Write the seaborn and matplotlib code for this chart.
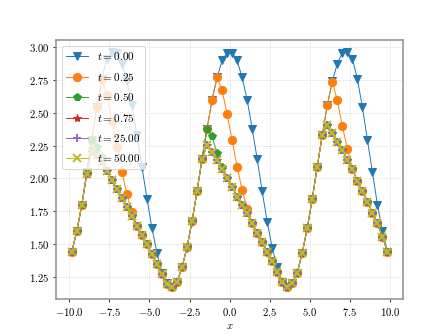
import numpy as np
import seaborn as sns
import matplotlib.pyplot as plt

# grid of 64 cell centres on [-10, 10]
x = np.linspace(-10 + 0.15625, 10 - 0.15625, 64)

y_t000 = [1.44, 1.60, 1.80, 2.05, 2.296, 2.545, 2.76, 2.914, 2.964, 2.957,
          2.876, 2.74, 2.56, 2.33, 2.09, 1.845, 1.62, 1.43, 1.28, 1.20,
          1.17, 1.21, 1.32, 1.47, 1.67, 1.90, 2.15, 2.38, 2.60, 2.77,
          2.90, 2.96, 2.96, 2.90, 2.77, 2.60, 2.38, 2.15, 1.90, 1.67,
          1.47, 1.32, 1.21, 1.17, 1.20, 1.28, 1.43, 1.62, 1.845, 2.09,
          2.33, 2.56, 2.74, 2.876, 2.957, 2.964, 2.914, 2.76, 2.545, 2.296,
          2.05, 1.80, 1.60, 1.44]

y_t025 = [1.44, 1.594, 1.797, 2.04, 2.296,
          2.545, 2.76, 2.634, 2.44, 2.24, 2.05, 1.878, 1.745, 1.636,
          1.566, 1.495, 1.42, 1.344, 1.266, 1.195, 1.168, 1.209, 1.32, 1.474, 1.672, 1.903,
          2.15, 2.38, 2.60, 2.77, 2.672, 2.489, 2.29, 2.09, 1.912, 1.767, 1.657,
          1.58, 1.517, 1.441, 1.365, 1.288, 1.21, 1.172, 1.198, 1.28, 1.43, 1.62, 1.843, 2.09, 2.33,
          2.56, 2.735, 2.596, 2.40, 2.227, 2.074, 1.98,
          1.903, 1.822, 1.739, 1.657, 1.555, 1.441]

y_t050 = [1.44, 1.594, 1.797, 2.04,
          2.296, 2.24, 2.16, 2.06,
          1.985, 1.915, 1.853, 1.782, 1.712, 1.636, 1.566, 1.495, 1.42, 1.344,
          1.266, 1.195, 1.168, 1.209, 1.32, 1.474, 1.672, 1.903, 2.145,
          2.38, 2.32, 2.19, 2.09,
          2.0, 1.937, 1.86, 1.797, 1.733, 1.657, 1.58, 1.517, 1.441, 1.365,
          1.288, 1.21, 1.172, 1.198, 1.28, 1.43, 1.62, 1.843, 2.09, 2.33,
          2.41, 2.346, 2.277, 2.214, 2.143, 2.07, 1.98, 1.903, 1.822, 1.739,
          1.657, 1.555, 1.441]

# t = 0.75, 25 and 50 sit on top of each other
y_late = [1.44, 1.594, 1.797, 2.033, 2.21, 2.176, 2.13, 2.055, 1.985, 1.915,
          1.853, 1.782, 1.712, 1.636, 1.566, 1.495, 1.42, 1.344, 1.266, 1.195,
          1.168, 1.209, 1.32, 1.474, 1.672, 1.903, 2.145, 2.254, 2.199, 2.138,
          2.07, 2.0, 1.937, 1.86, 1.797, 1.733, 1.657, 1.58, 1.517, 1.441,
          1.365, 1.288, 1.21, 1.172, 1.198, 1.28, 1.43, 1.62, 1.843, 2.09,
          2.33, 2.41, 2.346, 2.277, 2.214, 2.143, 2.07, 1.98, 1.903, 1.822,
          1.739, 1.657, 1.555, 1.441]
y_t075 = y_late
y_t2500 = y_late
y_t5000 = y_late

times = ["0.00", "0.25", "0.50", "0.75", "25.00", "50.00"]
series = [y_t000, y_t025, y_t050, y_t075, y_t2500, y_t5000]
markers = ["v", "o", "p", "*", "+", "x"]

plt.rcParams['font.family'] = 'serif'
plt.rcParams['font.serif'] = ['cmr10']
plt.rcParams['mathtext.fontset'] = 'cm'
plt.rcParams['axes.formatter.use_mathtext'] = True
plt.rcParams['font.size'] = 11

pal = sns.color_palette("tab10")
colors = [pal[0], pal[1], pal[2], pal[3], pal[4], pal[8]]

fig, ax = plt.subplots(figsize=(6.4, 4.8), dpi=70)
for t, y, m, c in zip(times, series, markers, colors):
    sns.lineplot(x=x, y=y, marker=m, color=c, lw=1, ms=8.5,
                 mew=2 if m in "+x" else 1, mec=c,
                 label=rf"$t = {t}$", ax=ax)

ax.grid(True, ls=":", color="#cccccc", lw=0.8)
for s in ax.spines.values():
    s.set_color("#909090")
    s.set_linewidth(1.6)
ax.set_xlabel(r"$x$")
ax.set_ylabel("")
ax.legend(loc="upper left", fontsize=11.5, labelspacing=0.75)

plt.savefig("out.png", dpi=70)
